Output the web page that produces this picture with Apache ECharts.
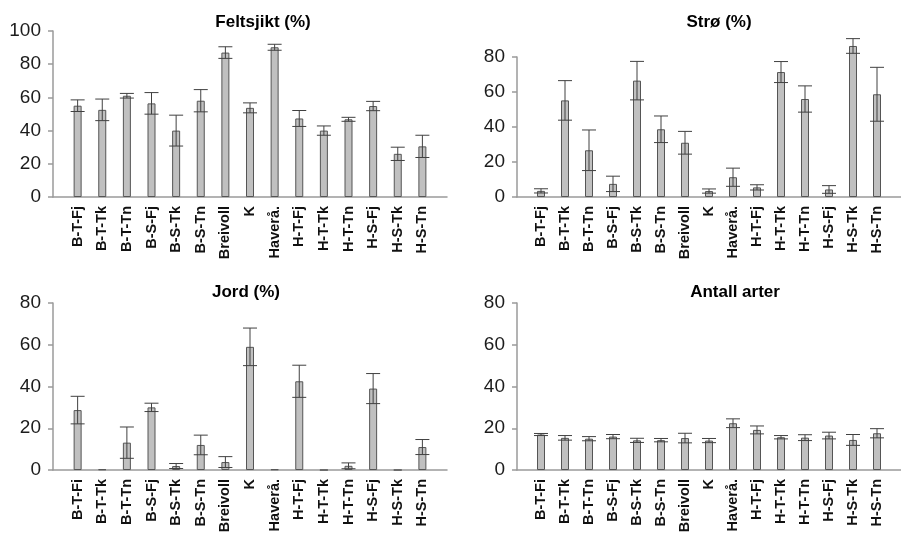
<!DOCTYPE html>
<html><head><meta charset="utf-8">
<script src="https://cdn.jsdelivr.net/npm/echarts@6/dist/echarts.min.js"></script>
<style>html,body{margin:0;padding:0;background:#fff}#c{width:901px;height:540px}</style>
</head><body><div id="c"></div>
<script>
const topCategories = ['B-T-Fj','B-T-Tk','B-T-Tn','B-S-Fj','B-S-Tk','B-S-Tn','Breivoll','K','Haverå.','H-T-Fj','H-T-Tk','H-T-Tn','H-S-Fj','H-S-Tk','H-S-Tn'];
const bottomCategories = ['B-T-Fi','B-T-Tk','B-T-Tn','B-S-Fj','B-S-Tk','B-S-Tn','Breivoll','K','Haverå.','H-T-Fj','H-T-Tk','H-T-Tn','H-S-Fj','H-S-Tk','H-S-Tn'];
const titles = ['Feltsjikt (%)','Strø (%)','Jord (%)','Antall arter'];
const feltMean = [55, 52.5, 61, 56.4, 40, 58, 87, 53.7, 90.2, 47.3, 40, 46.8, 54.8, 26, 30.5];
const feltErr  = [3.5, 6.5, 1.4, 6.5, 9.3, 6.7, 3.5, 3, 1.8, 4.8, 2.8, 1.2, 2.8, 4, 6.7];
const stroMean = [3.5, 55.2, 26.7, 7.5, 66.5, 38.7, 31, 3.4, 11.3, 5.5, 71.4, 56, 4.3, 86.3, 58.7];
const stroErr  = [1.2, 11.3, 11.6, 4.4, 11, 7.6, 6.5, 1.2, 5.2, 1.5, 6, 7.5, 2.2, 4.2, 15.4];
const jordMean = [28.7, 0.3, 13.1, 30, 1.9, 12, 3.8, 59, 0.3, 42.5, 0, 2, 39, 0, 11];
const jordErr  = [6.6, 0, 7.5, 2, 1.2, 4.7, 2.6, 9, 0, 7.7, 0, 1.4, 7.2, 0, 3.6];
const arterMean = [17, 15.4, 15, 16, 14.2, 14.3, 15.3, 14.1, 22.4, 19.2, 15.7, 15.5, 16.5, 14.4, 17.6];
const arterErr  = [0.5, 1.1, 1, 1, 1, 0.8, 2.3, 1, 2.1, 1.9, 0.8, 1.4, 1.6, 2.6, 2.2];
const yMax = [100, 80, 80, 80];
const yInterval = 20;

const panels = [
  {title: titles[0], cats: topCategories, mean: feltMean, err: feltErr, max: yMax[0]},
  {title: titles[1], cats: topCategories, mean: stroMean, err: stroErr, max: yMax[1]},
  {title: titles[2], cats: bottomCategories, mean: jordMean, err: jordErr, max: yMax[2]},
  {title: titles[3], cats: bottomCategories, mean: arterMean, err: arterErr, max: yMax[3]}
];
const grids = [
  {left: 53, right: 454, top: 31, bottom: 343},
  {left: 517, right: -9, top: 57, bottom: 343},
  {left: 53, right: 454, top: 303, bottom: 70},
  {left: 517, right: -9, top: 303, bottom: 70}
];
const titlePos = [{x: 258, y: 9}, {x: 714, y: 9}, {x: 241, y: 279}, {x: 730, y: 279}];

const font = '"Liberation Sans", Arial, sans-serif';
const axisColor = '#9a9a9a';
const option = {
  animation: false,
  textStyle: {fontFamily: font},
  title: panels.map((p, i) => ({
    text: p.title, left: titlePos[i].x, top: titlePos[i].y, textAlign: 'center',
    textStyle: {fontFamily: font, fontSize: 17, fontWeight: 'bold', color: '#000'}
  })),
  grid: grids.map(g => Object.assign({containLabel: false}, g)),
  xAxis: panels.map((p, i) => ({
    type: 'category', gridIndex: i, boundaryGap: false,
    data: [''].concat(p.cats, ['']),
    axisLine: {lineStyle: {color: axisColor, width: 1.5}},
    axisTick: {show: false},
    axisLabel: {rotate: 90, interval: 0, margin: 9, fontSize: 14.5, fontWeight: 'bold', color: '#111', fontFamily: font}
  })),
  yAxis: panels.map((p, i) => ({
    type: 'value', gridIndex: i, min: 0, max: p.max, interval: yInterval,
    axisLine: {show: true, lineStyle: {color: axisColor, width: 1.5}},
    axisTick: {show: true, length: 5, lineStyle: {color: axisColor, width: 1.5}},
    splitLine: {show: false},
    axisLabel: {fontSize: 19, color: '#1c1c1c', margin: 12, fontFamily: font}
  })),
  series: []
};
panels.forEach((p, i) => {
  option.series.push({
    type: 'bar', xAxisIndex: i, yAxisIndex: i, barWidth: 8, clip: false,
    data: ['-'].concat(p.mean, ['-']),
    itemStyle: {color: '#c0c0c0', borderColor: '#555', borderWidth: 1}
  });
  const errData = [];
  p.mean.forEach((m, k) => { if (p.err[k] > 0) errData.push([k + 1, m - p.err[k], m + p.err[k]]); });
  option.series.push({
    type: 'custom', xAxisIndex: i, yAxisIndex: i, clip: false, z: 5,
    data: errData,
    renderItem: function (params, api) {
      const x = api.value(0);
      const lo = api.coord([x, api.value(1)]);
      const hi = api.coord([x, api.value(2)]);
      const hw = 7;
      const st = {stroke: '#404040', lineWidth: 1};
      return {type: 'group', children: [
        {type: 'line', shape: {x1: lo[0], y1: lo[1], x2: hi[0], y2: hi[1]}, style: st},
        {type: 'line', shape: {x1: lo[0] - hw, y1: lo[1], x2: lo[0] + hw, y2: lo[1]}, style: st},
        {type: 'line', shape: {x1: hi[0] - hw, y1: hi[1], x2: hi[0] + hw, y2: hi[1]}, style: st}
      ]};
    }
  });
});
const chart = echarts.init(document.getElementById('c'), null, {renderer: 'canvas'});
chart.setOption(option);
</script>
</body></html>
